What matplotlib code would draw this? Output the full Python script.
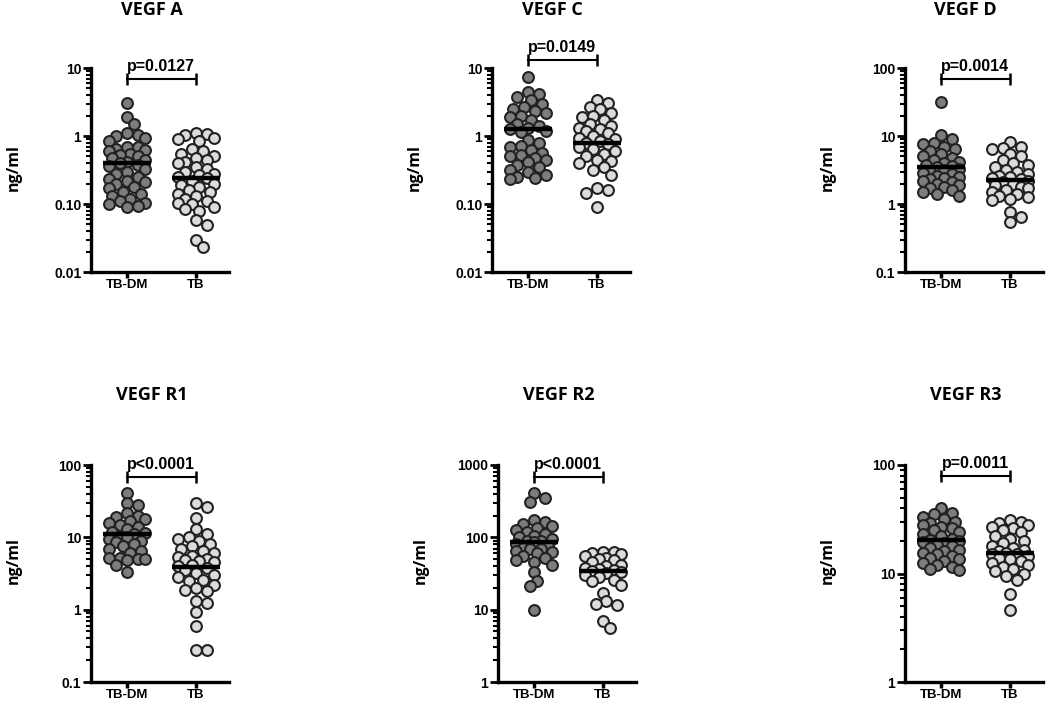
import numpy as np
import matplotlib
matplotlib.use("Agg")
import matplotlib.pyplot as plt
from matplotlib.ticker import FixedLocator, FixedFormatter, NullFormatter

plt.rcParams['font.family'] = ['Liberation Sans', 'DejaVu Sans']
plt.rcParams['font.weight'] = 'bold'

titles = ["VEGF A", "VEGF C", "VEGF D", "VEGF R1", "VEGF R2", "VEGF R3"]
groups = ["TB-DM", "TB"]
p_texts = ["p=0.0127", "p=0.0149", "p=0.0014", "p<0.0001", "p<0.0001", "p=0.0011"]
ylims = [(0.01, 10), (0.01, 10), (0.1, 100), (0.1, 100), (1, 1000), (1, 100)]
ytick_labels = [["0.01", "0.10", "1", "10"],
                ["0.01", "0.10", "1", "10"],
                ["0.1", "1", "10", "100"],
                ["0.1", "1", "10", "100"],
                ["1", "10", "100", "1000"],
                ["1", "10", "100"]]
bracket_y = [6.9, 13.0, 69, 68, 680, 79]

# TB-DM values (ng/ml)
vegf_a_dm = [3.1, 1.9, 1.5, 1.1, 1.05, 1.0, 0.95, 0.85, 0.7, 0.68, 0.65, 0.62, 0.6,
             0.55, 0.52, 0.5, 0.48, 0.45, 0.42, 0.4, 0.38, 0.36, 0.33, 0.3, 0.28,
             0.25, 0.23, 0.22, 0.21, 0.2, 0.18, 0.17, 0.15, 0.14, 0.13, 0.12, 0.11,
             0.105, 0.1, 0.095, 0.09]
vegf_c_dm = [7.4, 4.5, 4.2, 3.8, 3.4, 3.0, 2.7, 2.5, 2.3, 2.2, 2.0, 1.9, 1.7, 1.5,
             1.4, 1.3, 1.25, 1.2, 1.15, 0.88, 0.78, 0.72, 0.68, 0.62, 0.56, 0.52,
             0.5, 0.47, 0.44, 0.42, 0.38, 0.35, 0.32, 0.3, 0.27, 0.25, 0.24, 0.23]
vegf_d_dm = [32, 10.5, 9.0, 8.0, 7.5, 7.0, 6.5, 6.0, 5.5, 5.0, 4.8, 4.5, 4.2, 4.0,
             3.8, 3.6, 3.5, 3.3, 3.2, 3.0, 2.9, 2.8, 2.6, 2.5, 2.4, 2.3, 2.2, 2.1,
             2.0, 1.9, 1.8, 1.7, 1.6, 1.5, 1.4, 1.3]
vegf_r1_dm = [41, 30, 28, 22, 20, 19, 18, 17, 16, 15, 14, 13, 12, 11.5, 11, 10.5,
              10, 9.5, 9, 8.5, 8, 7.5, 7, 6.5, 6, 5.2, 5.1, 5.0, 5.0, 4.9, 4.1, 3.3]
vegf_r2_dm = [410, 350, 310, 175, 165, 155, 145, 135, 125, 118, 110, 105, 100, 95,
              90, 88, 85, 80, 76, 72, 70, 68, 65, 62, 60, 56, 52, 48, 45, 42, 33,
              25, 21, 10]
vegf_r3_dm = [40, 36, 35, 33, 32, 30, 29, 28, 27, 26, 25, 24, 23, 22, 21, 20.5, 20,
              19.5, 19, 18.5, 18, 17, 16.5, 16, 15.5, 15, 14.5, 14, 13.5, 13, 12.5,
              12, 11.5, 11, 10.8]

# TB values (ng/ml)
vegf_a_tb = [1.1, 1.08, 1.05, 0.95, 0.9, 0.85, 0.65, 0.6, 0.55, 0.5, 0.48, 0.45,
             0.42, 0.4, 0.35, 0.33, 0.3, 0.28, 0.27, 0.25, 0.24, 0.22, 0.2, 0.19,
             0.18, 0.16, 0.15, 0.14, 0.13, 0.12, 0.11, 0.105, 0.1, 0.09, 0.085,
             0.08, 0.058, 0.049, 0.03, 0.023]
vegf_c_tb = [3.4, 3.1, 2.7, 2.5, 2.2, 2.0, 1.9, 1.7, 1.5, 1.4, 1.3, 1.25, 1.2, 1.1,
             1.0, 0.95, 0.9, 0.85, 0.8, 0.75, 0.7, 0.65, 0.6, 0.55, 0.5, 0.45,
             0.43, 0.4, 0.35, 0.32, 0.27, 0.17, 0.16, 0.145, 0.09]
vegf_d_tb = [8.1, 7.0, 6.7, 6.5, 5.5, 5.0, 4.5, 4.0, 3.8, 3.5, 3.2, 3.0, 2.8, 2.6,
             2.5, 2.4, 2.3, 2.2, 2.1, 2.0, 1.9, 1.8, 1.7, 1.6, 1.5, 1.4, 1.3, 1.25,
             1.2, 1.15, 0.76, 0.64, 0.55]
vegf_r1_tb = [30, 26, 18.5, 13, 11, 10, 9.5, 9, 8, 7.5, 7, 6.5, 6, 5.5, 5.4, 5,
              4.9, 4.7, 4.5, 4.2, 4, 3.8, 3.5, 3.2, 3, 2.8, 2.6, 2.5, 2.2, 2.0,
              1.9, 1.8, 1.3, 1.25, 0.93, 0.6, 0.28, 0.28]
vegf_r2_tb = [63, 62, 60, 58, 55, 52, 50, 48, 45, 42, 40, 38, 36, 35, 34, 33, 32,
              30, 28, 26, 25, 22, 17, 13, 12, 11.5, 7, 5.6]
vegf_r3_tb = [31, 30, 29, 28, 27, 26, 25, 24, 22, 21, 20, 19, 18, 17, 16.5, 16,
              15.5, 15, 15, 14.5, 14, 13.5, 13, 12.5, 12, 11.5, 11, 10.5, 10, 9.5,
              8.7, 6.5, 4.6]

# medians (black bars)
medians_dm = [0.40, 1.27, 3.5, 11.0, 86, 20.5]
medians_tb = [0.24, 0.79, 2.25, 3.9, 34, 15.3]

dm_sets = [vegf_a_dm, vegf_c_dm, vegf_d_dm, vegf_r1_dm, vegf_r2_dm, vegf_r3_dm]
tb_sets = [vegf_a_tb, vegf_c_tb, vegf_d_tb, vegf_r1_tb, vegf_r2_tb, vegf_r3_tb]

W, H = 1050, 703
lefts = [91, 492, 905, 91, 498, 905]
row_bottom = [272, 272, 272, 682, 682, 682]
row_top = [68, 68, 68, 465, 465, 465]
ax_w = 138

dark = '#7d7d7d'
light = '#dcdcdc'
edge = '#222222'
dia_px = 12.0


def swarm_x(ax, xc, vals, dia, max_px, overlap=0.75):
    # simple deterministic beeswarm in pixel space
    tr = ax.transData
    pix = tr.transform(np.column_stack([np.full(len(vals), xc), vals]))
    x0 = pix[0, 0]
    ys = pix[:, 1]
    step = dia * 0.3
    cands = [0.0]
    k = 1
    while k * step <= max_px:
        cands += [k * step, -k * step]
        k += 1
    px, py = [], []
    out = np.zeros(len(vals))
    for i in np.argsort(-ys):
        best, best_d = 0.0, -1.0
        for c in cands:
            if px:
                d = np.min(np.hypot(np.array(px) - (x0 + c), np.array(py) - ys[i]))
            else:
                d = np.inf
            if d >= dia * overlap:
                best = c
                break
            if d > best_d:
                best, best_d = c, d
        out[i] = x0 + best
        px.append(x0 + best)
        py.append(ys[i])
    return tr.inverted().transform(np.column_stack([out, ys]))[:, 0]


fig = plt.figure(figsize=(W / 100, H / 100), dpi=100)

for n in range(6):
    b, t = row_bottom[n], row_top[n]
    ax = fig.add_axes([lefts[n] / W, 1 - b / H, ax_w / W, (b - t) / H])
    lo, hi = ylims[n]
    ax.set_yscale('log')
    ax.set_ylim(lo, hi)
    ax.set_xlim(0.48, 2.48)

    for s in ['top', 'right']:
        ax.spines[s].set_visible(False)
    for s in ['left', 'bottom']:
        ax.spines[s].set_linewidth(2.4)

    dec = np.arange(np.log10(lo), np.log10(hi) + 0.5)
    majors = 10 ** dec
    minors = [m * 10 ** d for d in dec[:-1] for m in range(2, 10)]
    ax.yaxis.set_major_locator(FixedLocator(majors))
    ax.yaxis.set_major_formatter(FixedFormatter(ytick_labels[n]))
    ax.yaxis.set_minor_locator(FixedLocator(minors))
    ax.yaxis.set_minor_formatter(NullFormatter())
    ax.tick_params(axis='y', which='major', length=6, width=2, pad=1, labelsize=10)
    ax.tick_params(axis='y', which='minor', length=3.5, width=1.5)
    ax.set_xticks([1, 2])
    ax.set_xticklabels(groups)
    ax.tick_params(axis='x', length=4.5, width=2.5, pad=0.5, labelsize=9.5)
    for lab in ax.get_xticklabels() + ax.get_yticklabels():
        lab.set_fontweight('bold')

    for xc, vals, fc, med in [(1, dm_sets[n], dark, medians_dm[n]),
                              (2, tb_sets[n], light, medians_tb[n])]:
        xs = swarm_x(ax, xc, vals, dia_px, 18)
        ax.plot(xs, vals, 'o', ms=7.8, mfc=fc, mec=edge, mew=1.5,
                linestyle='none', zorder=3, clip_on=False)
        ax.plot([xc - 0.35, xc + 0.35], [med, med], color='black', lw=3.2,
                solid_capstyle='butt', zorder=4)

    by = bracket_y[n]
    ax.plot([1, 2], [by, by], color='black', lw=1.5, marker='|', ms=9, mew=1.8,
            clip_on=False, zorder=5)
    ax.annotate(p_texts[n], (1.5, by), xytext=(0, 3.8), textcoords='offset points',
                ha='center', va='bottom', fontsize=11.5, fontweight='bold',
                annotation_clip=False)

    title_y = 1 + (58 if n < 3 else 70) / (b - t)
    ax.text(0.44, title_y, titles[n], transform=ax.transAxes, ha='center',
            va='center', fontsize=13, fontweight='bold', family='Open Sans')
    ax.set_ylabel('ng/ml', fontsize=11.5, fontweight='bold', family='Open Sans')
    ax.yaxis.set_label_coords(-0.50, 0.51 if n < 3 else 0.56)

fig.savefig('out.png', dpi=100)
